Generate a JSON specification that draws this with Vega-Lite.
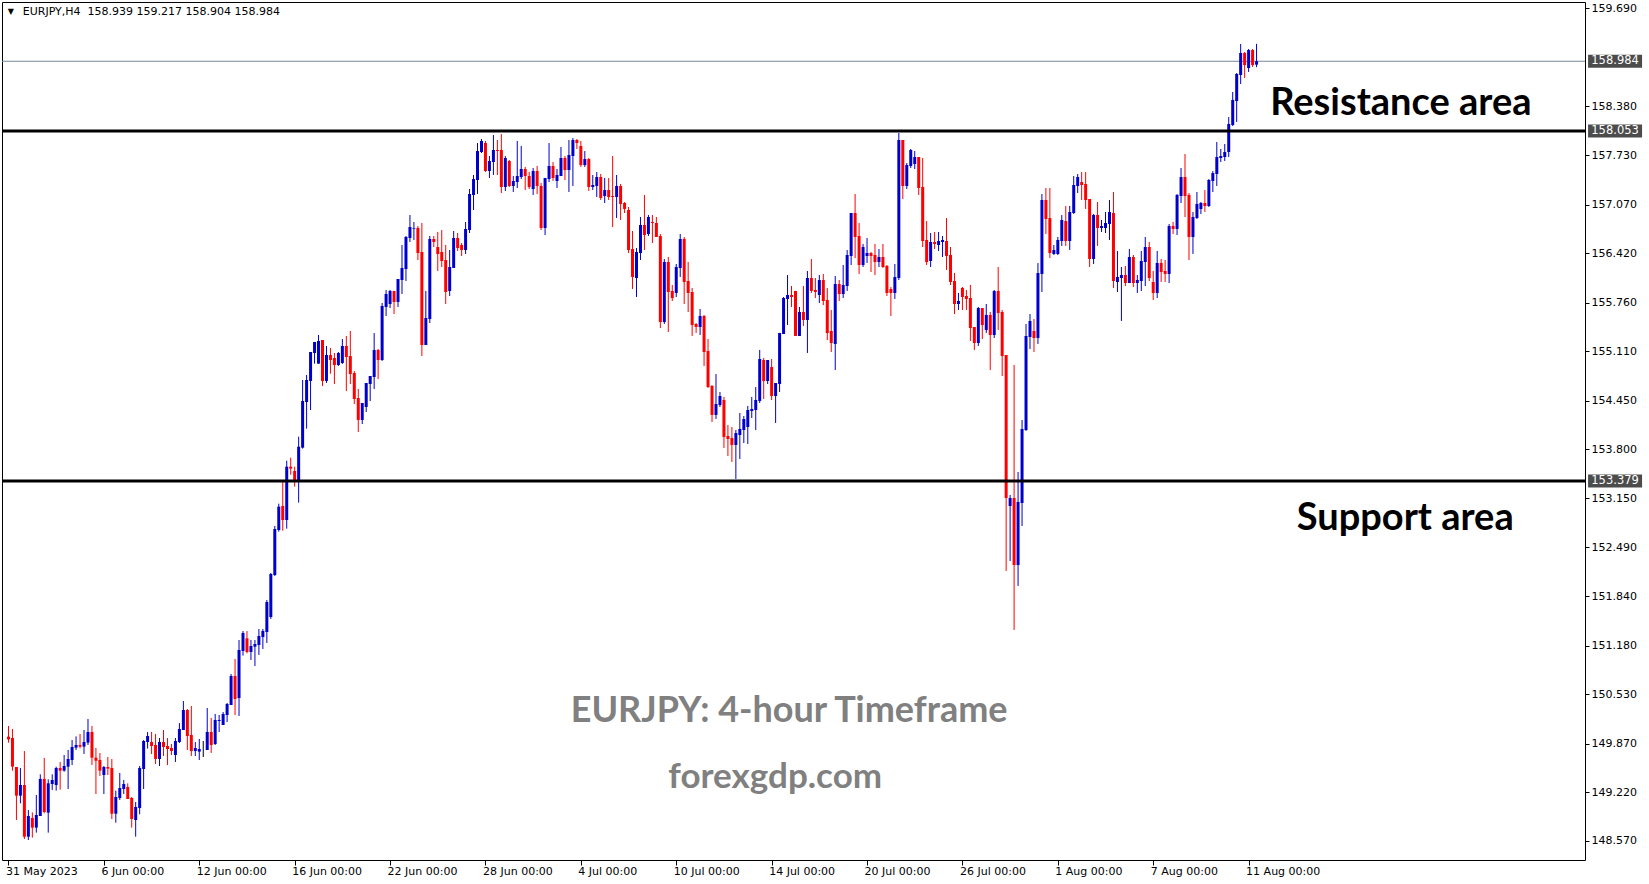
{
"$schema": "https://vega.github.io/schema/vega-lite/v6.json",
"width": 1583,
"height": 858,
"autosize": {"type": "none"},
"padding": {"left": 2, "top": 2, "right": 64, "bottom": 24},
"background": "white",
"config": {"view": {"stroke": "black", "strokeWidth": 1}},
"datasets": {
"candles": [
{"i":0,"o":149.963,"h":150.105,"l":149.883,"c":149.927},
{"i":1,"o":149.945,"h":150.065,"l":149.509,"c":149.562},
{"i":2,"o":149.558,"h":149.558,"l":148.850,"c":149.175},
{"i":3,"o":149.175,"h":149.544,"l":149.072,"c":149.317},
{"i":4,"o":149.317,"h":149.771,"l":148.596,"c":148.627},
{"i":5,"o":148.627,"h":148.983,"l":148.583,"c":148.903},
{"i":6,"o":148.877,"h":148.952,"l":148.614,"c":148.748},
{"i":7,"o":148.748,"h":149.184,"l":148.681,"c":148.917},
{"i":8,"o":148.903,"h":149.460,"l":148.903,"c":149.398},
{"i":9,"o":149.398,"h":149.678,"l":148.939,"c":148.957},
{"i":10,"o":148.948,"h":149.393,"l":148.681,"c":149.340},
{"i":11,"o":149.331,"h":149.460,"l":149.251,"c":149.384},
{"i":12,"o":149.317,"h":149.562,"l":149.242,"c":149.544},
{"i":13,"o":149.544,"h":149.625,"l":149.255,"c":149.509},
{"i":14,"o":149.509,"h":149.718,"l":149.495,"c":149.571},
{"i":15,"o":149.562,"h":149.785,"l":149.264,"c":149.665},
{"i":16,"o":149.651,"h":149.918,"l":149.584,"c":149.825},
{"i":17,"o":149.816,"h":149.967,"l":149.785,"c":149.852},
{"i":18,"o":149.852,"h":149.999,"l":149.807,"c":149.830},
{"i":19,"o":149.830,"h":150.052,"l":149.731,"c":149.892},
{"i":20,"o":149.883,"h":150.199,"l":149.852,"c":150.025},
{"i":21,"o":150.025,"h":150.105,"l":149.584,"c":149.682},
{"i":22,"o":149.682,"h":149.812,"l":149.197,"c":149.642},
{"i":23,"o":149.651,"h":149.745,"l":149.438,"c":149.509},
{"i":24,"o":149.451,"h":149.571,"l":149.197,"c":149.558},
{"i":25,"o":149.558,"h":149.691,"l":149.451,"c":149.536},
{"i":26,"o":149.544,"h":149.665,"l":148.863,"c":148.934},
{"i":27,"o":148.934,"h":149.242,"l":148.814,"c":149.157},
{"i":28,"o":149.144,"h":149.478,"l":149.117,"c":149.277},
{"i":29,"o":149.264,"h":149.384,"l":149.197,"c":149.331},
{"i":30,"o":149.291,"h":149.340,"l":149.130,"c":149.130},
{"i":31,"o":149.144,"h":149.157,"l":148.748,"c":148.863},
{"i":32,"o":148.850,"h":149.090,"l":148.627,"c":149.024},
{"i":33,"o":149.010,"h":149.571,"l":148.926,"c":149.544},
{"i":34,"o":149.531,"h":149.918,"l":149.264,"c":149.905},
{"i":35,"o":149.892,"h":150.025,"l":149.803,"c":149.972},
{"i":36,"o":149.892,"h":150.025,"l":149.731,"c":149.838},
{"i":37,"o":149.852,"h":149.999,"l":149.598,"c":149.665},
{"i":38,"o":149.665,"h":149.945,"l":149.571,"c":149.892},
{"i":39,"o":149.892,"h":150.052,"l":149.705,"c":149.825},
{"i":40,"o":149.838,"h":149.945,"l":149.584,"c":149.798},
{"i":41,"o":149.812,"h":149.865,"l":149.718,"c":149.771},
{"i":42,"o":149.718,"h":149.945,"l":149.625,"c":149.905},
{"i":43,"o":149.892,"h":150.145,"l":149.878,"c":150.065},
{"i":44,"o":150.052,"h":150.439,"l":150.052,"c":150.319},
{"i":45,"o":150.319,"h":150.332,"l":149.785,"c":149.972},
{"i":46,"o":149.985,"h":150.373,"l":149.705,"c":149.771},
{"i":47,"o":149.771,"h":149.892,"l":149.705,"c":149.812},
{"i":48,"o":149.763,"h":149.932,"l":149.651,"c":149.798},
{"i":49,"o":149.798,"h":149.905,"l":149.691,"c":149.798},
{"i":50,"o":149.785,"h":150.346,"l":149.785,"c":150.025},
{"i":51,"o":150.025,"h":150.212,"l":149.745,"c":149.852},
{"i":52,"o":149.865,"h":150.266,"l":149.852,"c":150.186},
{"i":53,"o":150.172,"h":150.252,"l":150.025,"c":150.186},
{"i":54,"o":150.119,"h":150.292,"l":150.119,"c":150.266},
{"i":55,"o":150.252,"h":150.413,"l":150.159,"c":150.399},
{"i":56,"o":150.386,"h":150.800,"l":150.386,"c":150.773},
{"i":57,"o":150.773,"h":151.000,"l":150.252,"c":150.466},
{"i":58,"o":150.479,"h":151.254,"l":150.239,"c":151.121},
{"i":59,"o":151.107,"h":151.374,"l":151.045,"c":151.348},
{"i":60,"o":151.276,"h":151.374,"l":151.076,"c":151.094},
{"i":61,"o":151.094,"h":151.254,"l":150.987,"c":151.174},
{"i":62,"o":151.165,"h":151.254,"l":150.907,"c":151.201},
{"i":63,"o":151.187,"h":151.401,"l":151.054,"c":151.308},
{"i":64,"o":151.294,"h":151.401,"l":151.134,"c":151.374},
{"i":65,"o":151.361,"h":151.789,"l":151.214,"c":151.762},
{"i":66,"o":151.561,"h":152.149,"l":151.535,"c":152.136},
{"i":67,"o":152.122,"h":152.777,"l":152.109,"c":152.737},
{"i":68,"o":152.723,"h":153.075,"l":152.701,"c":153.035},
{"i":69,"o":153.044,"h":153.369,"l":152.714,"c":152.857},
{"i":70,"o":152.857,"h":153.649,"l":152.741,"c":153.569},
{"i":71,"o":153.569,"h":153.689,"l":153.462,"c":153.543},
{"i":72,"o":153.511,"h":153.569,"l":153.302,"c":153.382},
{"i":73,"o":153.369,"h":153.970,"l":153.089,"c":153.836},
{"i":74,"o":153.823,"h":154.727,"l":153.810,"c":154.446},
{"i":75,"o":154.433,"h":154.794,"l":154.077,"c":154.727},
{"i":76,"o":154.714,"h":155.101,"l":154.326,"c":155.101},
{"i":77,"o":155.087,"h":155.234,"l":154.945,"c":155.234},
{"i":78,"o":154.945,"h":155.328,"l":154.945,"c":155.248},
{"i":79,"o":155.261,"h":155.261,"l":154.647,"c":154.714},
{"i":80,"o":154.714,"h":155.181,"l":154.687,"c":155.061},
{"i":81,"o":155.061,"h":155.154,"l":154.811,"c":154.994},
{"i":82,"o":155.021,"h":155.087,"l":154.673,"c":154.927},
{"i":83,"o":154.927,"h":155.101,"l":154.914,"c":155.087},
{"i":84,"o":154.954,"h":155.274,"l":154.941,"c":155.181},
{"i":85,"o":155.181,"h":155.314,"l":154.580,"c":155.034},
{"i":86,"o":155.047,"h":155.381,"l":154.673,"c":154.807},
{"i":87,"o":154.820,"h":154.847,"l":154.406,"c":154.473},
{"i":88,"o":154.486,"h":154.607,"l":154.032,"c":154.193},
{"i":89,"o":154.193,"h":154.420,"l":154.139,"c":154.420},
{"i":90,"o":154.366,"h":154.687,"l":154.299,"c":154.687},
{"i":91,"o":154.673,"h":154.780,"l":154.446,"c":154.780},
{"i":92,"o":154.767,"h":155.354,"l":154.607,"c":155.128},
{"i":93,"o":155.128,"h":155.141,"l":154.740,"c":154.994},
{"i":94,"o":154.994,"h":155.755,"l":154.981,"c":155.715},
{"i":95,"o":155.702,"h":155.929,"l":155.582,"c":155.876},
{"i":96,"o":155.742,"h":155.929,"l":155.688,"c":155.916},
{"i":97,"o":155.916,"h":155.916,"l":155.608,"c":155.769},
{"i":98,"o":155.769,"h":156.076,"l":155.702,"c":156.076},
{"i":99,"o":156.062,"h":156.530,"l":155.876,"c":156.223},
{"i":100,"o":156.209,"h":156.650,"l":156.049,"c":156.637},
{"i":101,"o":156.623,"h":156.931,"l":156.570,"c":156.770},
{"i":102,"o":156.748,"h":156.837,"l":156.597,"c":156.757},
{"i":103,"o":156.757,"h":156.784,"l":156.329,"c":156.423},
{"i":104,"o":156.436,"h":156.824,"l":155.047,"c":155.194},
{"i":105,"o":155.194,"h":155.916,"l":155.194,"c":155.555},
{"i":106,"o":155.541,"h":156.650,"l":155.488,"c":156.610},
{"i":107,"o":156.610,"h":156.650,"l":156.503,"c":156.570},
{"i":108,"o":156.503,"h":156.704,"l":156.183,"c":156.410},
{"i":109,"o":156.436,"h":156.730,"l":156.236,"c":156.316},
{"i":110,"o":156.329,"h":156.530,"l":155.742,"c":155.902},
{"i":111,"o":155.916,"h":156.463,"l":155.849,"c":156.236},
{"i":112,"o":156.223,"h":156.717,"l":156.223,"c":156.623},
{"i":113,"o":156.623,"h":156.690,"l":156.450,"c":156.490},
{"i":114,"o":156.530,"h":156.557,"l":156.383,"c":156.463},
{"i":115,"o":156.463,"h":156.837,"l":156.410,"c":156.744},
{"i":116,"o":156.730,"h":157.278,"l":156.690,"c":157.211},
{"i":117,"o":157.198,"h":157.465,"l":156.997,"c":157.411},
{"i":118,"o":157.398,"h":157.892,"l":157.211,"c":157.785},
{"i":119,"o":157.772,"h":157.946,"l":157.759,"c":157.919},
{"i":120,"o":157.892,"h":157.919,"l":157.505,"c":157.518},
{"i":121,"o":157.518,"h":157.719,"l":157.425,"c":157.652},
{"i":122,"o":157.638,"h":157.999,"l":157.465,"c":157.799},
{"i":123,"o":157.799,"h":157.932,"l":157.465,"c":157.785},
{"i":124,"o":157.799,"h":158.012,"l":157.224,"c":157.304},
{"i":125,"o":157.304,"h":157.719,"l":157.251,"c":157.692},
{"i":126,"o":157.652,"h":157.665,"l":157.304,"c":157.318},
{"i":127,"o":157.318,"h":157.451,"l":157.238,"c":157.385},
{"i":128,"o":157.371,"h":157.919,"l":157.291,"c":157.451},
{"i":129,"o":157.438,"h":157.852,"l":157.411,"c":157.545},
{"i":130,"o":157.545,"h":157.572,"l":157.264,"c":157.451},
{"i":131,"o":157.451,"h":157.505,"l":157.278,"c":157.304},
{"i":132,"o":157.278,"h":157.558,"l":157.198,"c":157.518},
{"i":133,"o":157.518,"h":157.585,"l":157.211,"c":157.318},
{"i":134,"o":157.318,"h":157.358,"l":156.730,"c":156.757},
{"i":135,"o":156.757,"h":157.425,"l":156.663,"c":157.425},
{"i":136,"o":157.411,"h":157.892,"l":157.371,"c":157.585},
{"i":137,"o":157.585,"h":157.638,"l":157.385,"c":157.425},
{"i":138,"o":157.385,"h":157.545,"l":157.291,"c":157.465},
{"i":139,"o":157.451,"h":157.839,"l":157.451,"c":157.692},
{"i":140,"o":157.692,"h":157.719,"l":157.398,"c":157.531},
{"i":141,"o":157.531,"h":157.932,"l":157.238,"c":157.732},
{"i":142,"o":157.719,"h":157.959,"l":157.318,"c":157.932},
{"i":143,"o":157.932,"h":157.946,"l":157.812,"c":157.892},
{"i":144,"o":157.852,"h":157.919,"l":157.572,"c":157.598},
{"i":145,"o":157.598,"h":157.785,"l":157.572,"c":157.678},
{"i":146,"o":157.678,"h":157.692,"l":157.251,"c":157.304},
{"i":147,"o":157.304,"h":157.465,"l":157.264,"c":157.331},
{"i":148,"o":157.318,"h":157.505,"l":157.171,"c":157.438},
{"i":149,"o":157.438,"h":157.478,"l":157.131,"c":157.158},
{"i":150,"o":157.184,"h":157.425,"l":157.091,"c":157.264},
{"i":151,"o":157.264,"h":157.425,"l":157.131,"c":157.171},
{"i":152,"o":157.184,"h":157.719,"l":156.770,"c":157.171},
{"i":153,"o":157.171,"h":157.465,"l":156.890,"c":157.318},
{"i":154,"o":157.318,"h":157.345,"l":156.864,"c":157.077},
{"i":155,"o":157.091,"h":157.104,"l":156.957,"c":157.011},
{"i":156,"o":156.997,"h":157.037,"l":156.423,"c":156.463},
{"i":157,"o":156.476,"h":156.717,"l":155.942,"c":156.103},
{"i":158,"o":156.089,"h":156.490,"l":155.835,"c":156.436},
{"i":159,"o":156.423,"h":156.904,"l":156.330,"c":156.797},
{"i":160,"o":156.797,"h":157.198,"l":156.463,"c":156.663},
{"i":161,"o":156.677,"h":156.931,"l":156.650,"c":156.904},
{"i":162,"o":156.837,"h":156.931,"l":156.557,"c":156.824},
{"i":163,"o":156.824,"h":156.904,"l":156.637,"c":156.637},
{"i":164,"o":156.650,"h":156.677,"l":155.421,"c":155.501},
{"i":165,"o":155.501,"h":156.343,"l":155.475,"c":156.303},
{"i":166,"o":156.303,"h":156.370,"l":155.368,"c":155.902},
{"i":167,"o":155.916,"h":155.996,"l":155.782,"c":155.822},
{"i":168,"o":155.889,"h":156.276,"l":155.835,"c":156.236},
{"i":169,"o":156.223,"h":156.677,"l":156.103,"c":156.610},
{"i":170,"o":156.610,"h":156.637,"l":155.742,"c":156.036},
{"i":171,"o":156.049,"h":156.303,"l":155.635,"c":155.889},
{"i":172,"o":155.902,"h":155.956,"l":155.315,"c":155.461},
{"i":173,"o":155.475,"h":155.488,"l":155.355,"c":155.435},
{"i":174,"o":155.435,"h":155.675,"l":155.328,"c":155.582},
{"i":175,"o":155.582,"h":155.595,"l":154.914,"c":155.101},
{"i":176,"o":155.114,"h":155.274,"l":154.620,"c":154.633},
{"i":177,"o":154.647,"h":154.660,"l":154.166,"c":154.260},
{"i":178,"o":154.260,"h":154.807,"l":154.206,"c":154.406},
{"i":179,"o":154.393,"h":154.567,"l":154.366,"c":154.513},
{"i":180,"o":154.460,"h":154.500,"l":153.819,"c":153.966},
{"i":181,"o":153.979,"h":154.126,"l":153.712,"c":153.939},
{"i":182,"o":153.952,"h":154.099,"l":153.632,"c":153.859},
{"i":183,"o":153.859,"h":154.059,"l":153.405,"c":154.019},
{"i":184,"o":153.992,"h":154.286,"l":153.672,"c":154.073},
{"i":185,"o":154.059,"h":154.246,"l":153.885,"c":154.206},
{"i":186,"o":154.099,"h":154.380,"l":153.872,"c":154.326},
{"i":187,"o":154.313,"h":154.500,"l":154.219,"c":154.340},
{"i":188,"o":154.326,"h":154.633,"l":154.059,"c":154.460},
{"i":189,"o":154.447,"h":155.128,"l":154.420,"c":155.007},
{"i":190,"o":154.994,"h":155.021,"l":154.473,"c":154.713},
{"i":191,"o":154.713,"h":154.994,"l":154.673,"c":154.994},
{"i":192,"o":154.900,"h":155.007,"l":154.460,"c":154.513},
{"i":193,"o":154.513,"h":154.687,"l":154.153,"c":154.687},
{"i":194,"o":154.673,"h":155.355,"l":154.567,"c":155.355},
{"i":195,"o":155.341,"h":155.835,"l":155.341,"c":155.822},
{"i":196,"o":155.809,"h":156.129,"l":155.461,"c":155.862},
{"i":197,"o":155.862,"h":155.982,"l":155.702,"c":155.835},
{"i":198,"o":155.916,"h":155.916,"l":155.315,"c":155.315},
{"i":199,"o":155.315,"h":155.702,"l":155.315,"c":155.635},
{"i":200,"o":155.635,"h":155.982,"l":155.448,"c":155.528},
{"i":201,"o":155.528,"h":156.183,"l":155.088,"c":156.089},
{"i":202,"o":156.089,"h":156.343,"l":155.889,"c":155.916},
{"i":203,"o":155.929,"h":156.089,"l":155.822,"c":155.902},
{"i":204,"o":155.862,"h":156.129,"l":155.755,"c":156.062},
{"i":205,"o":156.062,"h":156.143,"l":155.728,"c":155.782},
{"i":206,"o":155.795,"h":155.956,"l":155.261,"c":155.354},
{"i":207,"o":155.381,"h":155.662,"l":155.101,"c":155.221},
{"i":208,"o":155.208,"h":156.116,"l":154.860,"c":156.009},
{"i":209,"o":156.009,"h":156.062,"l":155.782,"c":155.875},
{"i":210,"o":155.875,"h":156.263,"l":155.822,"c":155.996},
{"i":211,"o":155.982,"h":156.463,"l":155.916,"c":156.396},
{"i":212,"o":156.383,"h":156.957,"l":156.263,"c":156.957},
{"i":213,"o":156.957,"h":157.211,"l":156.356,"c":156.637},
{"i":214,"o":156.650,"h":156.824,"l":156.143,"c":156.263},
{"i":215,"o":156.263,"h":156.543,"l":156.236,"c":156.503},
{"i":216,"o":156.383,"h":156.623,"l":156.290,"c":156.423},
{"i":217,"o":156.423,"h":156.436,"l":156.169,"c":156.383},
{"i":218,"o":156.396,"h":156.543,"l":156.129,"c":156.303},
{"i":219,"o":156.303,"h":156.476,"l":156.236,"c":156.370},
{"i":220,"o":156.370,"h":156.543,"l":156.223,"c":156.236},
{"i":221,"o":156.250,"h":156.263,"l":155.849,"c":155.889},
{"i":222,"o":155.942,"h":155.969,"l":155.582,"c":155.889},
{"i":223,"o":155.889,"h":156.276,"l":155.809,"c":156.102},
{"i":224,"o":156.089,"h":158.026,"l":156.062,"c":157.932},
{"i":225,"o":157.932,"h":157.932,"l":157.144,"c":157.318},
{"i":226,"o":157.318,"h":157.625,"l":157.278,"c":157.598},
{"i":227,"o":157.585,"h":157.812,"l":157.558,"c":157.799},
{"i":228,"o":157.612,"h":157.785,"l":157.545,"c":157.705},
{"i":229,"o":157.705,"h":157.705,"l":157.198,"c":157.291},
{"i":230,"o":157.305,"h":157.692,"l":156.503,"c":156.583},
{"i":231,"o":156.597,"h":156.850,"l":156.263,"c":156.303},
{"i":232,"o":156.316,"h":156.690,"l":156.236,"c":156.570},
{"i":233,"o":156.570,"h":156.704,"l":156.476,"c":156.543},
{"i":234,"o":156.530,"h":156.704,"l":156.450,"c":156.583},
{"i":235,"o":156.570,"h":156.650,"l":156.370,"c":156.597},
{"i":236,"o":156.583,"h":156.890,"l":156.196,"c":156.383},
{"i":237,"o":156.396,"h":156.503,"l":155.996,"c":156.036},
{"i":238,"o":156.049,"h":156.156,"l":155.608,"c":155.742},
{"i":239,"o":155.742,"h":155.889,"l":155.662,"c":155.782},
{"i":240,"o":155.956,"h":155.969,"l":155.662,"c":155.835},
{"i":241,"o":155.849,"h":155.929,"l":155.662,"c":155.809},
{"i":242,"o":155.822,"h":155.996,"l":155.248,"c":155.421},
{"i":243,"o":155.435,"h":155.435,"l":155.128,"c":155.221},
{"i":244,"o":155.221,"h":155.702,"l":155.181,"c":155.688},
{"i":245,"o":155.688,"h":155.688,"l":155.274,"c":155.461},
{"i":246,"o":155.395,"h":155.742,"l":155.355,"c":155.595},
{"i":247,"o":155.595,"h":155.635,"l":154.860,"c":155.328},
{"i":248,"o":155.328,"h":155.929,"l":155.288,"c":155.915},
{"i":249,"o":155.915,"h":156.236,"l":155.395,"c":155.622},
{"i":250,"o":155.635,"h":155.662,"l":154.780,"c":155.047},
{"i":251,"o":155.061,"h":155.061,"l":152.176,"c":153.151},
{"i":252,"o":153.044,"h":153.191,"l":152.309,"c":153.151},
{"i":253,"o":153.151,"h":154.927,"l":151.388,"c":152.256},
{"i":254,"o":152.256,"h":153.498,"l":151.976,"c":153.097},
{"i":255,"o":153.084,"h":154.193,"l":152.777,"c":154.072},
{"i":256,"o":154.059,"h":155.475,"l":154.046,"c":155.315},
{"i":257,"o":155.301,"h":155.608,"l":155.141,"c":155.515},
{"i":258,"o":155.381,"h":155.541,"l":155.101,"c":155.288},
{"i":259,"o":155.288,"h":156.289,"l":155.208,"c":156.156},
{"i":260,"o":156.143,"h":157.211,"l":155.902,"c":157.131},
{"i":261,"o":157.131,"h":157.291,"l":156.677,"c":156.877},
{"i":262,"o":156.890,"h":157.291,"l":156.356,"c":156.423},
{"i":263,"o":156.410,"h":156.530,"l":156.396,"c":156.463},
{"i":264,"o":156.410,"h":156.637,"l":156.396,"c":156.597},
{"i":265,"o":156.583,"h":156.930,"l":156.517,"c":156.864},
{"i":266,"o":156.850,"h":157.051,"l":156.517,"c":156.583},
{"i":267,"o":156.583,"h":157.051,"l":156.463,"c":156.971},
{"i":268,"o":156.957,"h":157.451,"l":156.944,"c":157.331},
{"i":269,"o":157.318,"h":157.478,"l":157.224,"c":157.438},
{"i":270,"o":157.371,"h":157.505,"l":157.131,"c":157.331},
{"i":271,"o":157.345,"h":157.505,"l":157.011,"c":157.131},
{"i":272,"o":157.144,"h":157.144,"l":156.236,"c":156.343},
{"i":273,"o":156.343,"h":156.944,"l":156.276,"c":156.931},
{"i":274,"o":156.931,"h":157.104,"l":156.517,"c":156.757},
{"i":275,"o":156.757,"h":156.864,"l":156.704,"c":156.784},
{"i":276,"o":156.757,"h":156.971,"l":156.690,"c":156.824},
{"i":277,"o":156.810,"h":157.131,"l":156.597,"c":156.971},
{"i":278,"o":156.957,"h":157.238,"l":155.955,"c":156.049},
{"i":279,"o":156.036,"h":156.450,"l":155.902,"c":156.103},
{"i":280,"o":156.089,"h":156.236,"l":155.515,"c":156.129},
{"i":281,"o":156.129,"h":156.249,"l":155.982,"c":156.022},
{"i":282,"o":156.022,"h":156.477,"l":156.022,"c":156.370},
{"i":283,"o":156.370,"h":156.397,"l":155.969,"c":156.022},
{"i":284,"o":156.022,"h":156.129,"l":155.889,"c":156.062},
{"i":285,"o":156.049,"h":156.450,"l":155.915,"c":156.316},
{"i":286,"o":156.303,"h":156.637,"l":155.982,"c":156.503},
{"i":287,"o":156.503,"h":156.570,"l":156.049,"c":156.089},
{"i":288,"o":156.036,"h":156.183,"l":155.795,"c":155.889},
{"i":289,"o":155.889,"h":156.450,"l":155.822,"c":156.290},
{"i":290,"o":156.290,"h":156.343,"l":156.036,"c":156.169},
{"i":291,"o":156.183,"h":156.330,"l":156.036,"c":156.143},
{"i":292,"o":156.143,"h":156.810,"l":156.022,"c":156.784},
{"i":293,"o":156.784,"h":156.837,"l":156.677,"c":156.744},
{"i":294,"o":156.744,"h":157.211,"l":156.664,"c":157.198},
{"i":295,"o":157.184,"h":157.558,"l":157.091,"c":157.438},
{"i":296,"o":157.438,"h":157.745,"l":156.904,"c":157.184},
{"i":297,"o":157.198,"h":157.224,"l":156.330,"c":156.637},
{"i":298,"o":156.637,"h":156.971,"l":156.410,"c":156.904},
{"i":299,"o":156.891,"h":157.238,"l":156.877,"c":157.078},
{"i":300,"o":157.011,"h":157.104,"l":156.944,"c":157.091},
{"i":301,"o":157.091,"h":157.264,"l":156.971,"c":157.051},
{"i":302,"o":157.051,"h":157.411,"l":157.037,"c":157.398},
{"i":303,"o":157.385,"h":157.518,"l":157.238,"c":157.491},
{"i":304,"o":157.478,"h":157.906,"l":157.318,"c":157.705},
{"i":305,"o":157.692,"h":157.812,"l":157.638,"c":157.719},
{"i":306,"o":157.705,"h":157.879,"l":157.652,"c":157.772},
{"i":307,"o":157.772,"h":158.239,"l":157.705,"c":158.146},
{"i":308,"o":158.133,"h":158.573,"l":158.119,"c":158.467},
{"i":309,"o":158.453,"h":158.827,"l":158.173,"c":158.814},
{"i":310,"o":158.800,"h":159.215,"l":158.680,"c":159.094},
{"i":311,"o":159.094,"h":159.108,"l":158.760,"c":158.934},
{"i":312,"o":158.894,"h":159.148,"l":158.841,"c":159.134},
{"i":313,"o":159.134,"h":159.148,"l":158.907,"c":158.934},
{"i":314,"o":158.939,"h":159.217,"l":158.904,"c":158.984}
],
"levels": [{"p": 158.053}, {"p": 153.379}],
"bid": [{"p": 158.984}],
"marks": [{"p": 158.984}, {"p": 158.053}, {"p": 153.379}]
},
"layer": [
{
"data": {"name": "bid"},
"mark": {"type": "rule", "color": "#778899", "strokeWidth": 1},
"encoding": {
"y": {"field": "p", "type": "quantitative",
"scale": {"domain": [148.3156, 159.7755], "nice": false, "zero": false},
"axis": {"orient": "right", "title": null,
"values": [159.69,158.38,157.73,157.07,156.42,155.76,155.11,154.45,153.8,153.15,152.49,151.84,151.18,150.53,149.87,149.22,148.57],
"format": ".3f", "labelAlign": "left", "labelBaseline": "middle", "labelPadding": 2, "tickSize": 4, "tickColor": "black",
"labelFont": "DejaVu Sans", "labelFontSize": 11, "labelColor": "black", "domain": false, "grid": false, "labelOverlap": false, "labelFlush": false, "labelBound": false}}
}
},
{
"data": {"name": "candles"},
"mark": {"type": "rule", "strokeWidth": 1},
"encoding": {
"x": {"field": "i", "type": "quantitative",
"scale": {"domain": [-0.375, 395.375], "nice": false, "zero": false},
"axis": {"orient": "bottom", "title": null, "values": [0,24,48,72,96,120,144,168,192,216,240,264,288,312],
"labelExpr": "['31 May 2023','6 Jun 00:00','12 Jun 00:00','16 Jun 00:00','22 Jun 00:00','28 Jun 00:00','4 Jul 00:00','10 Jul 00:00','14 Jul 00:00','20 Jul 00:00','26 Jul 00:00','1 Aug 00:00','7 Aug 00:00','11 Aug 00:00'][round(datum.value/24)]",
"labelAlign": "left", "labelBaseline": "top", "labelPadding": 0, "labelOffset": -3, "tickSize": 5, "tickColor": "black",
"labelFont": "DejaVu Sans", "labelFontSize": 11, "labelColor": "black", "domain": false, "grid": false, "labelOverlap": false, "labelFlush": false, "labelBound": false}},
"y": {"field": "l", "type": "quantitative"},
"y2": {"field": "h"},
"color": {"condition": [{"test": "datum.c > datum.o", "value": "#0000CC"}, {"test": "datum.c < datum.o", "value": "#FF0000"}], "value": "black"}
}
},
{
"data": {"name": "candles"},
"mark": {"type": "bar", "width": 3, "minBandSize": 1},
"encoding": {
"x": {"field": "i", "type": "quantitative"},
"y": {"field": "o", "type": "quantitative"},
"y2": {"field": "c"},
"color": {"condition": [{"test": "datum.c > datum.o", "value": "#0000CC"}, {"test": "datum.c < datum.o", "value": "#FF0000"}], "value": "black"}
}
},
{
"data": {"name": "levels"},
"mark": {"type": "rule", "color": "black", "strokeWidth": 3},
"encoding": {"y": {"field": "p", "type": "quantitative"}}
},
{
"data": {"name": "marks"},
"mark": {"type": "tick", "orient": "horizontal", "size": 54, "thickness": 13, "color": "black"},
"encoding": {
"x": {"datum": 404.2, "type": "quantitative"},
"y": {"field": "p", "type": "quantitative"}
}
},
{
"data": {"name": "marks"},
"mark": {"type": "text", "font": "DejaVu Sans", "fontSize": 11.5, "color": "white", "align": "center", "baseline": "middle"},
"encoding": {
"x": {"datum": 404.2, "type": "quantitative"},
"y": {"field": "p", "type": "quantitative"},
"text": {"field": "p", "type": "quantitative", "format": ".3f"}
}
},
{
"data": {"values": [{}]},
"mark": {"type": "text", "font": "DejaVu Sans", "fontSize": 11, "color": "black", "align": "left", "baseline": "middle", "text": "EURJPY,H4\u00a0\u00a0158.939 159.217 158.904 158.984"},
"encoding": {"x": {"datum": 3.6, "type": "quantitative"}, "y": {"datum": 159.642, "type": "quantitative"}}
},
{
"data": {"values": [{}]},
"mark": {"type": "text", "font": "DejaVu Sans", "fontSize": 8, "color": "black", "align": "center", "baseline": "middle", "text": "▼"},
"encoding": {"x": {"datum": 0.6, "type": "quantitative"}, "y": {"datum": 159.642, "type": "quantitative"}}
},
{
"data": {"values": [{}]},
"mark": {"type": "text", "font": "Lato", "fontWeight": "bold", "fontSize": 38, "color": "black", "align": "center", "baseline": "middle", "text": "Resistance area"},
"encoding": {"x": {"datum": 350.3, "type": "quantitative"}, "y": {"datum": 158.41, "type": "quantitative"}}
},
{
"data": {"values": [{}]},
"mark": {"type": "text", "font": "Lato", "fontWeight": "bold", "fontSize": 38, "color": "black", "align": "center", "baseline": "middle", "text": "Support area"},
"encoding": {"x": {"datum": 351.4, "type": "quantitative"}, "y": {"datum": 152.874, "type": "quantitative"}}
},
{
"data": {"values": [{}]},
"mark": {"type": "text", "font": "Lato", "fontWeight": "bold", "fontSize": 36, "color": "#808080", "align": "center", "baseline": "middle", "text": "EURJPY: 4-hour Timeframe"},
"encoding": {"x": {"datum": 196.4, "type": "quantitative"}, "y": {"datum": 150.312, "type": "quantitative"}}
},
{
"data": {"values": [{}]},
"mark": {"type": "text", "font": "Lato", "fontWeight": "bold", "fontSize": 35, "color": "#808080", "align": "center", "baseline": "middle", "text": "forexgdp.com"},
"encoding": {"x": {"datum": 192.9, "type": "quantitative"}, "y": {"datum": 149.418, "type": "quantitative"}}
}
]
}
